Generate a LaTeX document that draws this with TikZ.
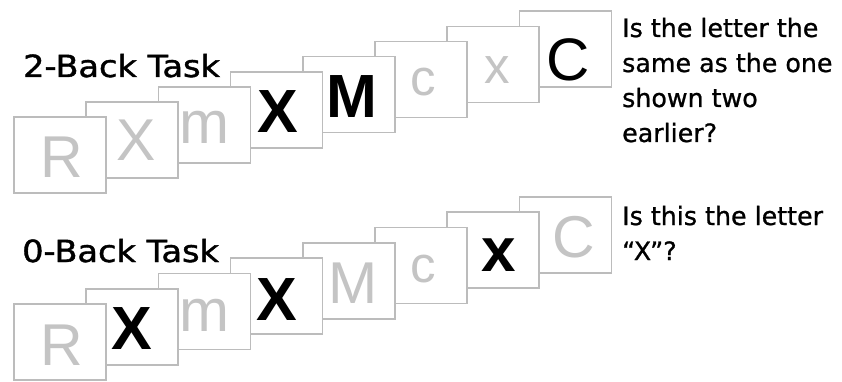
\documentclass[tikz,border=0pt]{standalone}
\usepackage{fontspec}
\setmainfont{Liberation Sans}
\newfontfamily\qfont[FakeBold=0.9]{DejaVu Sans}
\newfontfamily\labfont[FakeBold=1.3]{DejaVu Sans}
\usepackage{graphicx}

\definecolor{cardline}{RGB}{188,188,188}
\definecolor{faint}{RGB}{196,196,196}

\tikzset{
  card/.style={draw=cardline, line width=1.7pt, fill=white,
    minimum width=92pt, minimum height=76pt, inner sep=0pt},
  glyph/.style={anchor=base, inner sep=0pt, outer sep=0pt},
  dimcap/.style={glyph, text=faint, font=\fontsize{59}{59}\selectfont},
  dimlow/.style={glyph, text=faint, font=\fontsize{60}{60}\selectfont},
  dimsmall/.style={glyph, text=faint, font=\fontsize{51}{51}\selectfont},
  boldcap/.style={glyph, text=black, font=\bfseries\fontsize{61}{61}\selectfont},
  boldsmall/.style={glyph, text=black, font=\bfseries\fontsize{62}{62}\selectfont},
  plaincap/.style={glyph, text=black, font=\fontsize{60}{60}\selectfont},
  tasklabel/.style={anchor=base west, inner sep=0pt, font=\labfont\fontsize{30.5}{30.5}\selectfont},
  question/.style={anchor=base west, inner sep=0pt, font=\qfont\fontsize{25.3}{25.3}\selectfont},
}

% one stimulus card: name, left x, bottom y, letter style, x offset, baseline rise, letter
\newcommand\stimcard[7]{%
  \node[card] (#1) at (#2+46,#3-38) {};
  \node[#4] (#1l) at ([xshift=#5pt,yshift=#6pt]#1.south) {#7};
}

\begin{document}
\begin{tikzpicture}[x=1pt,y=-1pt]
  \useasboundingbox (0,0) rectangle (842,382);

  % 2-back sequence, drawn back to front
  \stimcard{ta8}{519.4}{87.3}{plaincap}{3}{8}{C}
  \stimcard{ta7}{447.2}{102.4}{dimsmall}{4}{20}{x}
  \stimcard{ta6}{375.0}{117.5}{dimsmall}{2}{22.5}{c}
  \stimcard{ta5}{302.8}{132.6}{boldcap}{3}{16}{M}
  \stimcard{ta4}{230.6}{147.7}{boldcap}{1}{16}{X}
  \stimcard{ta3}{158.4}{162.8}{dimlow}{0}{20}{m}
  \stimcard{ta2}{86.2}{177.9}{dimcap}{4}{18}{X}
  \stimcard{ta1}{14.0}{193.0}{dimcap}{1.5}{16}{R}

  % 0-back sequence, drawn back to front
  \stimcard{tb8}{519.4}{272.9}{dimcap}{8}{16}{C}
  \stimcard{tb7}{447.2}{288.2}{boldsmall}{6}{18}{x}
  \stimcard{tb6}{375.0}{303.5}{dimsmall}{2}{22}{c}
  \stimcard{tb5}{302.8}{318.8}{dimcap}{4}{16}{M}
  \stimcard{tb4}{230.6}{334.1}{boldcap}{0.5}{14}{X}
  \stimcard{tb3}{158.4}{349.4}{dimlow}{0}{19}{m}
  \stimcard{tb2}{86.2}{364.7}{boldcap}{0}{16}{X}
  \stimcard{tb1}{14.0}{380.0}{dimcap}{1.5}{15}{R}

  % task names
  \node[tasklabel] (lab2) at (23,77) {\scalebox{1.1}[1]{2-Back Task}};
  \node[tasklabel] (lab0) at (22,262) {\scalebox{1.1}[1]{0-Back Task}};

  % instructions
  \node[question] (qa1) at (622,37) {Is the letter the};
  \node[question] (qa2) at (622,72) {same as the one};
  \node[question] (qa3) at (622,107) {shown two};
  \node[question] (qa4) at (622,142) {earlier?};
  \node[question] (qb1) at (622,225) {Is this the letter};
  \node[question] (qb2) at (622,260) {“X”?};
\end{tikzpicture}
\end{document}
